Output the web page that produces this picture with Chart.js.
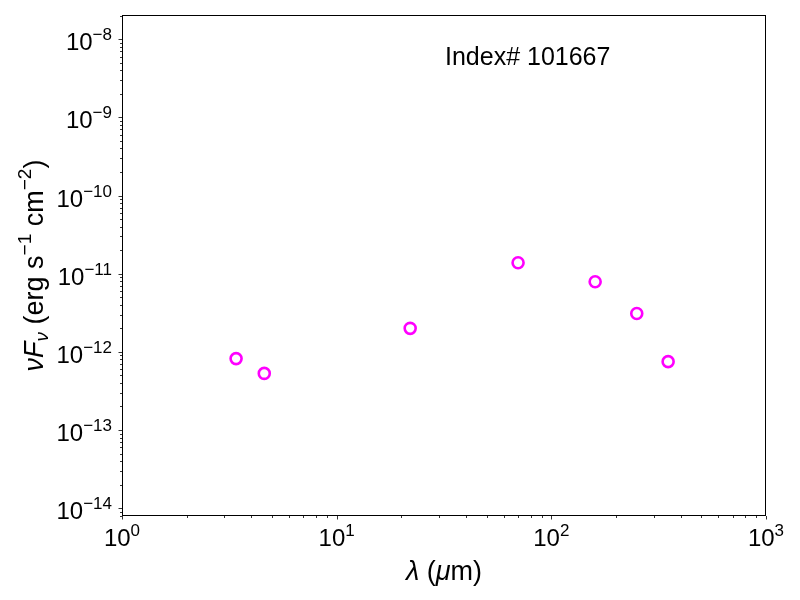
<!DOCTYPE html>
<html>
<head>
    <title>SED Index 101667</title>
    <script src="https://cdn.jsdelivr.net/npm/chart.js"></script>
    <style>
        body { margin: 0; background: #fff; }
    </style>
</head>
<body>
    <canvas id="sedChart" width="800" height="600"></canvas>
    <script>
        // photometry (wavelength in micron, nuFnu in erg/s/cm2)
        var wavelengths = [3.4, 4.6, 22, 70, 160, 250, 350];
        var fluxes = [8.2e-13, 5.3e-13, 2.0e-12, 1.38e-11, 7.9e-12, 3.1e-12, 7.5e-13];

        // decade tick exponents for each axis
        var xTickExponents = [0, 1, 2, 3];
        var yTickExponents = [-14, -13, -12, -11, -10, -9, -8];

        var xMin = 1, xMax = 1000;
        var yMin = Math.pow(10, -14.1), yMax = Math.pow(10, -7.69);

        var FONT = '"Liberation Sans", Arial, Helvetica, sans-serif';

        // draw a run of text pieces, some raised or lowered, some italic
        function richWidth(ctx, parts) {
            var w = 0;
            parts.forEach(function (p) {
                ctx.font = (p.italic ? 'italic ' : '') + p.size + 'px ' + FONT;
                w += ctx.measureText(p.t).width;
            });
            return w;
        }
        function drawRich(ctx, parts, x, y, align) {
            var w = richWidth(ctx, parts);
            var cx = align === 'right' ? x - w : align === 'center' ? x - w / 2 : x;
            ctx.textAlign = 'left';
            ctx.textBaseline = 'alphabetic';
            parts.forEach(function (p) {
                ctx.font = (p.italic ? 'italic ' : '') + p.size + 'px ' + FONT;
                ctx.fillText(p.t, cx, y + (p.dy || 0));
                cx += ctx.measureText(p.t).width;
            });
        }
        function powLabel(exp) {
            var e = exp < 0 ? '\u2212' + (-exp) : String(exp);
            return [{ t: '10', size: 24 }, { t: e, size: 17, dy: -10 }];
        }

        var axesPlugin = {
            id: 'mplAxes',
            afterDraw: function (chart) {
                var ctx = chart.ctx;
                var a = chart.chartArea;
                var xs = chart.scales.x, ys = chart.scales.y;
                ctx.save();
                ctx.fillStyle = '#000';
                ctx.strokeStyle = '#000';

                // frame
                ctx.lineWidth = 1;
                ctx.strokeRect(a.left + 0.5, a.top + 0.5, a.right - a.left - 1, a.bottom - a.top - 1);

                // ticks, major and minor
                ctx.lineWidth = 0.8;
                ctx.beginPath();
                for (var d = -1; d <= 3; d++) {
                    for (var m = 1; m <= 9; m++) {
                        var v = m * Math.pow(10, d);
                        if (v < xMin || v > xMax) continue;
                        var px = Math.round(xs.getPixelForValue(v)) + 0.5;
                        var len = m === 1 ? 3.5 : 2;
                        ctx.moveTo(px, a.bottom);
                        ctx.lineTo(px, a.bottom + len);
                    }
                }
                for (var dy = -15; dy <= -7; dy++) {
                    for (var n = 1; n <= 9; n++) {
                        var vy = n * Math.pow(10, dy);
                        if (vy < yMin || vy > yMax) continue;
                        var py = Math.round(ys.getPixelForValue(vy)) + 0.5;
                        var leny = n === 1 ? 3.5 : 2;
                        ctx.moveTo(a.left, py);
                        ctx.lineTo(a.left - leny, py);
                    }
                }
                ctx.stroke();

                // tick labels
                xTickExponents.forEach(function (e) {
                    var px = xs.getPixelForValue(Math.pow(10, e));
                    drawRich(ctx, powLabel(e), px, a.bottom + 30, 'center');
                });
                yTickExponents.forEach(function (e) {
                    var py = ys.getPixelForValue(Math.pow(10, e));
                    drawRich(ctx, powLabel(e), a.left - 10, py + 11, 'right');
                });

                // axis labels
                var midX = (a.left + a.right) / 2;
                drawRich(ctx, [
                    { t: '\u03bb', size: 27, italic: true },
                    { t: ' (', size: 27 },
                    { t: '\u03bc', size: 27, italic: true },
                    { t: 'm)', size: 27 }
                ], midX, 580, 'center');

                ctx.save();
                ctx.translate(43, (a.top + a.bottom) / 2);
                ctx.rotate(-Math.PI / 2);
                drawRich(ctx, [
                    { t: '\u03bdF', size: 27, italic: true },
                    { t: '\u03bd', size: 19, italic: true, dy: 5 },
                    { t: ' (erg s', size: 27 },
                    { t: '\u22121', size: 19, dy: -12 },
                    { t: ' cm', size: 27 },
                    { t: '\u22122', size: 19, dy: -12 },
                    { t: ')', size: 27 }
                ], 0, 0, 'center');
                ctx.restore();

                // annotation
                drawRich(ctx, [{ t: 'Index# 101667', size: 25 }], 445, 65, 'left');
                ctx.restore();
            }
        };

        var points = wavelengths.map(function (w, i) {
            return { x: w, y: fluxes[i] };
        });

        var ctx = document.getElementById('sedChart').getContext('2d');
        var sedChart = new Chart(ctx, {
            type: 'scatter',
            data: {
                datasets: [{
                    label: 'SED',
                    data: points,
                    pointStyle: 'circle',
                    pointRadius: 5.5,
                    pointHoverRadius: 5.5,
                    borderWidth: 2.6,
                    borderColor: '#ff00ff',
                    backgroundColor: 'rgba(0,0,0,0)'
                }]
            },
            options: {
                responsive: false,
                animation: false,
                devicePixelRatio: 1,
                layout: {
                    padding: { left: 114, right: 34, top: 15, bottom: 76 }
                },
                plugins: {
                    legend: { display: false },
                    tooltip: { enabled: false }
                },
                scales: {
                    x: {
                        type: 'logarithmic',
                        min: xMin,
                        max: xMax,
                        ticks: { display: false },
                        grid: { display: false },
                        border: { display: false }
                    },
                    y: {
                        type: 'logarithmic',
                        min: yMin,
                        max: yMax,
                        ticks: { display: false },
                        grid: { display: false },
                        border: { display: false }
                    }
                }
            },
            plugins: [axesPlugin]
        });
    </script>
</body>
</html>
